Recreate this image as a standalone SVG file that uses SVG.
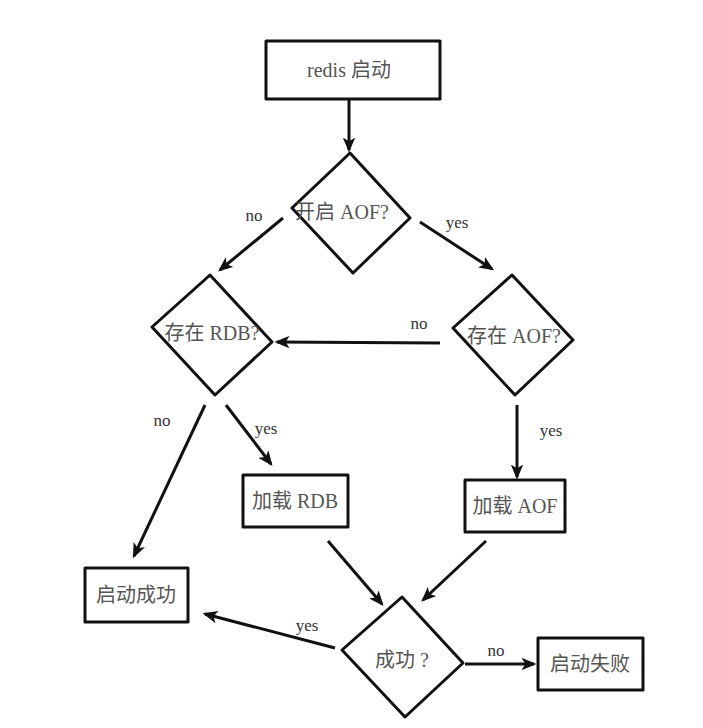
<svg xmlns="http://www.w3.org/2000/svg" width="703" height="728" viewBox="0 0 703 728">
<style>
.s{fill:#fff;stroke:#111;stroke-width:3;stroke-linejoin:round}
.t{font-family:"Liberation Serif","Noto Sans CJK SC",serif;font-size:20px;fill:#555;text-anchor:middle;dominant-baseline:central}
.l{font-family:"Liberation Serif",serif;font-size:17px;fill:#333;text-anchor:middle;dominant-baseline:central}
.c{stroke:#111;stroke-width:3;fill:none;marker-end:url(#a)}
</style>
<defs>
<marker id="a" viewBox="0 0 12 10" refX="10" refY="5" markerWidth="5" markerHeight="4.2" orient="auto" markerUnits="strokeWidth">
<path d="M0,0 L12,5 L0,10 L3,5 Z" fill="#111"/>
</marker>
</defs>
<rect width="703" height="728" fill="#fff"/>
<g id="connectors">
<line class="c" x1="349" y1="100" x2="349" y2="150"/>
<line class="c" x1="283" y1="218" x2="220" y2="270"/>
<line class="c" x1="420" y1="222" x2="492" y2="269"/>
<line class="c" x1="440" y1="343" x2="277" y2="342"/>
<line class="c" x1="205" y1="405" x2="134" y2="556"/>
<line class="c" x1="226" y1="405" x2="271" y2="464"/>
<line class="c" x1="517" y1="405" x2="517" y2="477"/>
<line class="c" x1="328" y1="541" x2="382" y2="604"/>
<line class="c" x1="486" y1="541" x2="423" y2="600"/>
<line class="c" x1="335" y1="648" x2="205" y2="614"/>
<line class="c" x1="465" y1="664" x2="534" y2="664"/>
<text class="l" x="254" y="215">no</text>
<text class="l" x="457" y="222">yes</text>
<text class="l" x="419" y="323">no</text>
<text class="l" x="162" y="420">no</text>
<text class="l" x="266" y="428">yes</text>
<text class="l" x="551" y="430">yes</text>
<text class="l" x="307" y="625">yes</text>
<text class="l" x="496" y="650">no</text>
</g>
<g id="start">
<rect class="s" x="266" y="41" width="174" height="58"/>
<text class="t" x="349" y="70">redis 启动</text>
</g>
<g id="d_aof_on">
<polygon class="s" points="350,153 410,218 353,273 292,208"/>
<text class="t" x="342" y="212">开启 AOF?</text>
</g>
<g id="d_rdb">
<polygon class="s" points="210,275 272,342 215,395 152,327"/>
<text class="t" x="212" y="333">存在 RDB?</text>
</g>
<g id="d_aof">
<polygon class="s" points="512,275 573,340 515,395 453,328"/>
<text class="t" x="514" y="336">存在 AOF?</text>
</g>
<g id="load_rdb">
<rect class="s" x="243" y="475" width="105" height="52"/>
<text class="t" x="295" y="501">加载 RDB</text>
</g>
<g id="load_aof">
<rect class="s" x="465" y="480" width="100" height="52"/>
<text class="t" x="515" y="506">加载 AOF</text>
</g>
<g id="ok">
<rect class="s" x="85" y="568" width="103" height="54"/>
<text class="t" x="136" y="595">启动成功</text>
</g>
<g id="d_success">
<polygon class="s" points="402,597 463,663 405,717 342,650"/>
<text class="t" x="402" y="660">成功 ?</text>
</g>
<g id="fail">
<rect class="s" x="538" y="638" width="105" height="52"/>
<text class="t" x="590" y="664">启动失败</text>
</g>
</svg>
